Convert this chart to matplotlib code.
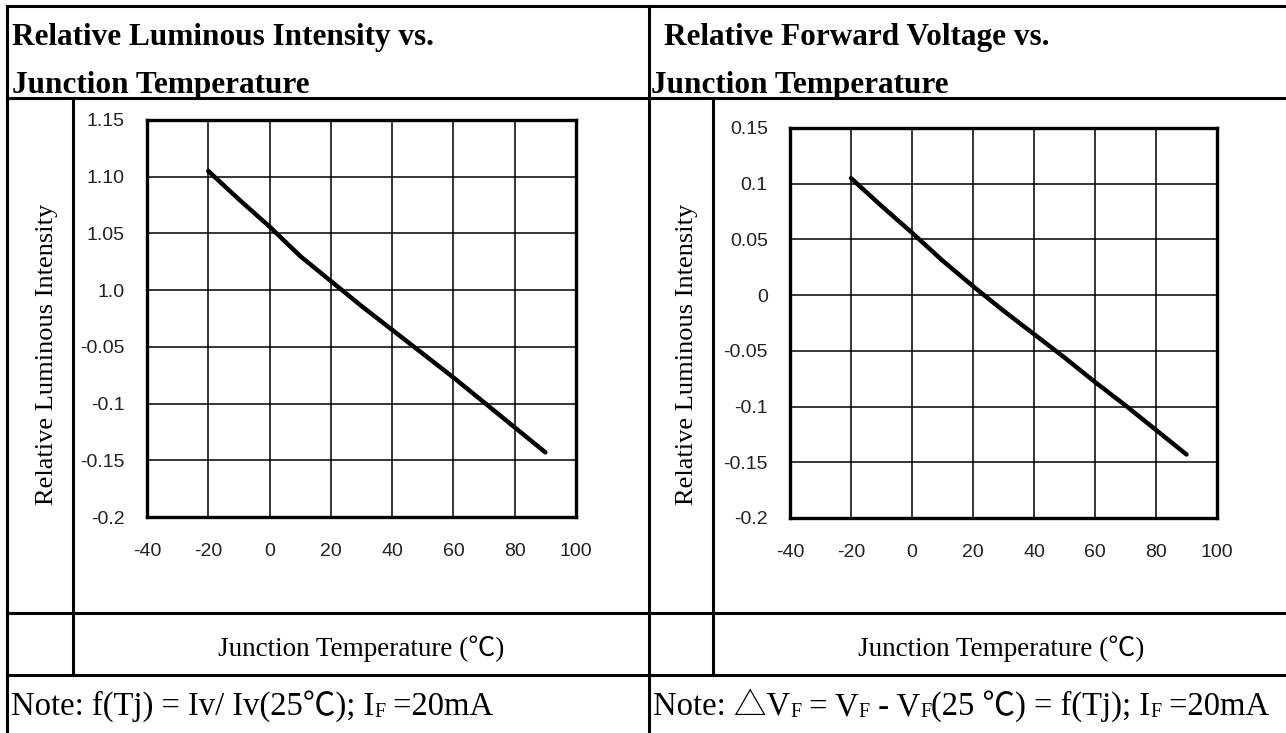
import matplotlib
matplotlib.use("Agg")
import matplotlib.pyplot as plt
from matplotlib.lines import Line2D

W, H = 1286, 733

# data
temps = [-20, -10, 0, 10, 20, 30, 40, 50, 60, 70, 80, 90]
lum_vals = [0.105, 0.080, 0.056, 0.030, 0.008, -0.014, -0.035, -0.056, -0.077, -0.099, -0.121, -0.143]
vf_vals = [0.105, 0.080, 0.056, 0.031, 0.008, -0.014, -0.035, -0.056, -0.078, -0.099, -0.121, -0.143]

x_ticks = [-40, -20, 0, 20, 40, 60, 80, 100]
x_labels = ['-40', '-20', '0', '20', '40', '60', '80', '100']
y_ticks = [-0.2, -0.15, -0.1, -0.05, 0.0, 0.05, 0.10, 0.15]
lum_labels = ['-0.2', '-0.15', '-0.1', '-0.05', '1.0', '1.05', '1.10', '1.15']
vf_labels = ['-0.2', '-0.15', '-0.1', '-0.05', '0', '0.05', '0.1', '0.15']

SERIF = ['Liberation Serif', 'Noto Sans CJK JP', 'DejaVu Sans']
TICKF = ['Liberation Sans', 'DejaVu Sans']

fig = plt.figure(figsize=(W / 100, H / 100), dpi=100)


def fx(x):
    return x / W


def fy(y):
    return 1 - y / H


def hline(y, x0, x1):
    fig.add_artist(Line2D([fx(x0), fx(x1)], [fy(y), fy(y)], color='black', lw=2.2,
                          transform=fig.transFigure, solid_capstyle='projecting'))


def vline(x, y0, y1):
    fig.add_artist(Line2D([fx(x), fx(x)], [fy(y0), fy(y1)], color='black', lw=2.2,
                          transform=fig.transFigure, solid_capstyle='projecting'))


# table frame
hline(6, 7, W)
hline(98, 7, W)
hline(613, 7, W)
hline(675, 7, W)
vline(7, 6, H)
vline(649, 6, H)
vline(73, 98, 675)
vline(713, 98, 675)


def make_chart(box, vals, labels):
    x0, y0, x1, y1 = box
    ax = fig.add_axes([fx(x0), fy(y1), fx(x1) - fx(x0), fy(y0) - fy(y1)])
    ax.plot(temps, vals, color='black', lw=3.2, solid_capstyle='round')
    ax.set_xlim(-40, 100)
    ax.set_ylim(-0.2, 0.15)
    ax.set_xticks(x_ticks)
    ax.set_xticklabels(x_labels)
    ax.set_yticks(y_ticks)
    ax.set_yticklabels(labels)
    ax.grid(True, color='black', lw=1.1)
    ax.set_axisbelow(True)
    for s in ax.spines.values():
        s.set_linewidth(2.4)
    ax.tick_params(length=0, labelsize=14, colors='#222222')
    ax.tick_params(axis='x', pad=19)
    ax.tick_params(axis='y', pad=16)
    for lab in ax.get_xticklabels() + ax.get_yticklabels():
        lab.set_family(TICKF)
    return ax


make_chart((147, 120, 576, 517), lum_vals, lum_labels)
make_chart((790, 128, 1217, 518), vf_vals, vf_labels)

# titles
title_kw = dict(family=SERIF, fontsize=22.5, fontweight='bold', va='baseline', ha='left')
fig.text(fx(12), fy(45), 'Relative Luminous Intensity vs.', **title_kw)
fig.text(fx(12), fy(93), 'Junction Temperature', **title_kw)
fig.text(fx(664), fy(45), 'Relative Forward Voltage vs.', **title_kw)
fig.text(fx(651), fy(93), 'Junction Temperature', **title_kw)

# axis labels
for x in (47, 687):
    fig.text(fx(x), fy(354), 'Relative Luminous Intensity', family=SERIF, fontsize=19,
             rotation=90, ha='center', va='center')
fig.text(fx(361), fy(656), 'Junction Temperature (\u2103)', family=SERIF, fontsize=19.5,
         ha='center', va='baseline')
fig.text(fx(1001), fy(656), 'Junction Temperature (\u2103)', family=SERIF, fontsize=19.5,
         ha='center', va='baseline')

# notes with subscripts, drawn piece by piece
renderer = fig.canvas.get_renderer()


def note(x, y, pieces):
    cur = x
    for txt, sub in pieces:
        size = 14.5 if sub else 23.5
        yy = y + 2 if sub else y
        t = fig.text(fx(cur), fy(yy), txt, family=SERIF, fontsize=size, ha='left', va='baseline')
        bb = t.get_window_extent(renderer)
        cur += bb.width


note(11, 715, [('Note: f(Tj) = Iv/ Iv(25\u2103); I', False), ('F', True), (' =20mA', False)])
note(653, 715, [('Note: \u25b3V', False), ('F', True), (' = V', False), ('F', True),
                (' - V', False), ('F', True), ('(25 \u2103) = f(Tj); I', False), ('F', True),
                (' =20mA', False)])

fig.savefig('out.png', dpi=100)
